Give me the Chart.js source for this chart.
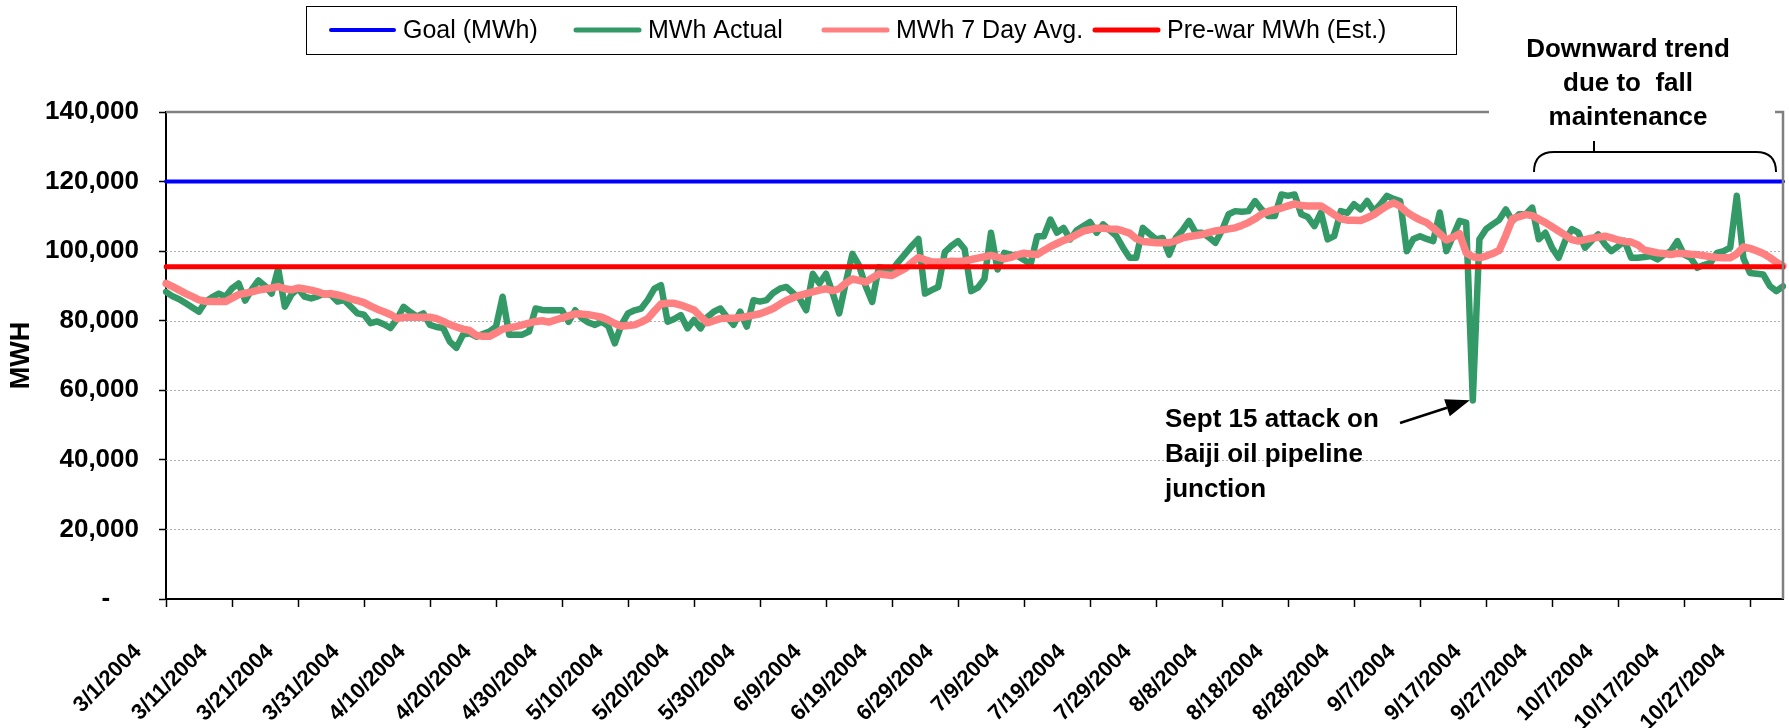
<!DOCTYPE html>
<html><head><meta charset="utf-8">
<script src="https://cdn.jsdelivr.net/npm/chart.js@4/dist/chart.umd.min.js"></script>
<style>html,body{margin:0;padding:0;background:#fff;}#wrap{width:1789px;height:728px;}</style>
</head><body><div id="wrap"><canvas id="c" width="1789" height="728"></canvas></div>
<script>
// ---------- DATA ----------
const firstDay = { year: 2004, month: 3, day: 1 };
const dayCount = 246;
const dates = [];
for (let i = 0; i < dayCount; i++) {
  const d = new Date(Date.UTC(firstDay.year, firstDay.month - 1, firstDay.day + i));
  dates.push((d.getUTCMonth() + 1) + '/' + d.getUTCDate() + '/' + d.getUTCFullYear());
}
const labelEvery = 10;

const goalMWh = 120000;
const preWarMWh = 95500;

const actualMWh = [
 88300, 87000, 86200, 85000, 83800, 82600, 85500, 86800, 87800, 86900,
 89300, 90700, 85800, 89000, 91600, 90000, 87800, 95000, 84000, 87500,
 89300, 86900, 86400, 87000, 87800, 87400, 85500, 85900, 84000, 82100,
 81700, 79300, 79800, 79000, 77900, 80500, 84000, 82500, 81200, 82100,
 78800, 78200, 77900, 74000, 72200, 76000, 76400, 75400, 76200, 76900,
 78300, 86900, 76000, 76000, 76000, 76900, 83500, 83100, 83000, 83000,
 83000, 79700, 83000, 80700, 79500, 78800, 79700, 78500, 73500, 78800,
 82100, 83000, 83500, 86000, 89200, 90200, 79700, 80500, 81600, 77800,
 80200, 77800, 81000, 82600, 83500, 81000, 78800, 82600, 78300, 85900,
 85500, 85900, 88000, 89200, 89700, 88000, 86400, 83000, 93500, 90700,
 93500, 88000, 82100, 91000, 99200, 95900, 90000, 85400, 95400, 95000,
 94500, 97000, 99200, 101500, 103500, 87800, 88800, 89700, 99700, 101500,
 102900, 100600, 88500, 89500, 92000, 105300, 94700, 99500, 99000, 98600,
 97500, 96200, 104300, 104300, 109100, 105300, 106700, 103400, 106000, 107200,
 108400, 105300, 107700, 106000, 104300, 101000, 98100, 98100, 106700, 105000,
 103400, 103800, 99000, 103800, 106000, 108700, 105300, 105300, 104000, 102400,
 106000, 110600, 111500, 111300, 111500, 114400, 112000, 110100, 110100, 116300,
 115900, 116300, 110600, 109800, 107200, 111100, 103400, 104300, 111500, 111000,
 113500, 112000, 114400, 111500, 113500, 115900, 115000, 114400, 100000, 103500,
 104300, 103500, 102900, 111100, 100000, 104300, 108700, 108200, 57100, 103400,
 106300, 107700, 109000, 112000, 108700, 110600, 110600, 112500, 103400, 105300,
 101000, 98100, 103000, 106300, 105300, 101000, 103000, 104800, 102000, 100000,
 101400, 102900, 98100, 98100, 98300, 98600, 97600, 99000, 100000, 102900,
 99000, 98100, 95200, 96000, 96600, 99500, 100000, 101000, 115900, 98000,
 93700, 93500, 93300, 90000, 88500, 89900
];

const avg7DayMWh = [
 90700, 89800, 88800, 87800, 86900, 86000, 85600, 85500, 85500, 85500,
 86500, 87500, 87900, 88300, 88800, 89100, 89400, 89800, 89200, 88900,
 89400, 89100, 88800, 88300, 87600, 87800, 87400, 86900, 86300, 85800,
 85200, 84200, 83300, 82600, 81800, 80600, 81000, 81000, 81000, 81000,
 81000, 80600, 79800, 78900, 78200, 77600, 77200, 75800, 75500, 75500,
 76500, 77600, 78000, 78300, 78800, 79300, 79800, 80000, 79600, 80200,
 80800, 81400, 82000, 81900, 81700, 81400, 81000, 80200, 79200, 78400,
 78600, 78800, 79600, 80600, 82800, 84800, 85000, 85000, 84500, 83800,
 83100, 81200, 79400, 80000, 80600, 80700, 80700, 80900, 81200, 81600,
 82000, 82700, 83500, 84700, 85800, 86600, 87300, 87800, 88300, 88800,
 89200, 88600, 89200, 90800, 92000, 91600, 91100, 92300, 93400, 93200,
 93000, 94000, 95000, 96700, 98200, 97500, 96900, 96900, 96900, 97100,
 97000, 97200, 97600, 98000, 98400, 98800, 98300, 97800, 98200, 98900,
 99400, 99200, 99000, 100200, 101300, 102200, 103100, 103800, 104800, 105800,
 106200, 106600, 106600, 106400, 106300, 105800, 105200, 103600, 102800, 102600,
 102400, 102400, 102400, 103000, 103800, 104200, 104500, 104800, 105300, 105800,
 106100, 106400, 106700, 107400, 108200, 109300, 110600, 111400, 111900, 112400,
 113000, 113600, 113100, 113000, 113000, 113000, 111800, 110500, 109300, 108900,
 108900, 108800, 109600, 110500, 111800, 113000, 113900, 112900, 111200, 110000,
 109000, 108200, 106700, 105000, 103200, 104000, 105000, 99500, 98400, 98100,
 98600, 99300, 100200, 104500, 109300, 109900, 110500, 110200, 109200, 108200,
 107000, 105800, 104600, 103300, 102900, 103300, 103700, 104000, 104300, 103800,
 103200, 102800, 102600, 101800, 100300, 99900, 99500, 99300, 99000, 99400,
 99300, 99100, 99000, 98700, 98400, 98200, 98100, 98100, 99200, 101200,
 100800, 100100, 99300, 98200, 96800, 95700
];

const yMin = 0, yMax = 140000, yStep = 20000;
const seriesNames = ['Goal (MWh)', 'MWh Actual', 'MWh 7 Day Avg.', 'Pre-war MWh (Est.)'];
const attackIndex = 198;
const attackNote = ['Sept 15 attack on', 'Baiji oil pipeline', 'junction'];
const trendNote = ['Downward trend', 'due to  fall', 'maintenance'];

// ---------- PLUGINS ----------
const FONT = '"Liberation Sans", Arial, sans-serif';

const gridPlugin = {
  id: 'gridPlugin',
  beforeDatasetsDraw(chart) {
    const { ctx, chartArea: a, scales: { y } } = chart;
    ctx.save();
    ctx.strokeStyle = '#b0b0b0';
    ctx.lineWidth = 1;
    ctx.setLineDash([2, 2]);
    for (let v = yStep; v < yMax; v += yStep) {
      const py = Math.round(y.getPixelForValue(v)) + 0.5;
      ctx.beginPath(); ctx.moveTo(a.left, py); ctx.lineTo(a.right, py); ctx.stroke();
    }
    ctx.restore();
  }
};

const decorPlugin = {
  id: 'decorPlugin',
  afterDraw(chart) {
    const { ctx, chartArea: a, scales: { x, y } } = chart;
    ctx.save();
    // plot frame (top & right)
    ctx.strokeStyle = '#808080';
    ctx.lineWidth = 2.5;
    ctx.beginPath(); ctx.moveTo(a.left, a.top); ctx.lineTo(a.right, a.top); ctx.lineTo(a.right, a.bottom); ctx.stroke();

    // trend note box
    ctx.fillStyle = '#fff';
    ctx.fillRect(1489, 28, a.right - 8 - 1489, 96);
    ctx.fillStyle = '#000';
    ctx.font = 'bold 26px ' + FONT;
    ctx.textAlign = 'center';
    ctx.textBaseline = 'middle';
    trendNote.forEach((t, i) => ctx.fillText(t, 1628, 50 + i * 34));

    // brace
    ctx.strokeStyle = '#000';
    ctx.lineWidth = 2;
    const bl = 1534, br = 1776, bt = 152, bb = 172, r = 20, nub = 1594;
    ctx.beginPath();
    ctx.moveTo(bl, bb);
    ctx.quadraticCurveTo(bl, bt, bl + r, bt);
    ctx.lineTo(br - r, bt);
    ctx.quadraticCurveTo(br, bt, br, bb);
    ctx.moveTo(nub, bt);
    ctx.lineTo(nub, bt - 11);
    ctx.stroke();

    // attack note + arrow
    ctx.textAlign = 'left';
    ctx.textBaseline = 'alphabetic';
    attackNote.forEach((t, i) => ctx.fillText(t, 1165, 427 + i * 35));
    const tx = x.getPixelForValue(attackIndex) - 3;
    const ty = y.getPixelForValue(actualMWh[attackIndex]);
    const sx = 1400, sy = 423;
    const ang = Math.atan2(ty - sy, tx - sx);
    const hl = 24, hw = 9;
    const bx = tx - hl * Math.cos(ang), by = ty - hl * Math.sin(ang);
    ctx.lineWidth = 2.5;
    ctx.beginPath(); ctx.moveTo(sx, sy); ctx.lineTo(bx, by); ctx.stroke();
    ctx.beginPath();
    ctx.moveTo(tx, ty);
    ctx.lineTo(bx + hw * Math.sin(ang), by - hw * Math.cos(ang));
    ctx.lineTo(bx - hw * Math.sin(ang), by + hw * Math.cos(ang));
    ctx.closePath(); ctx.fill();

    // legend (boxed, one row)
    ctx.font = '25px ' + FONT;
    ctx.textBaseline = 'middle';
    const box = { l: 306, r: 1456, t: 6, h: 48 }, cy = 30, lineLen = 63, gapLT = 9;
    const itemStarts = [331, 576, 824, 1095];
    ctx.lineWidth = 1;
    ctx.strokeStyle = '#000';
    ctx.strokeRect(box.l + 0.5, box.t + 0.5, box.r - box.l, box.h);
    chart.data.datasets.forEach((d, i) => {
      const lx = itemStarts[i];
      ctx.strokeStyle = d.borderColor;
      ctx.lineWidth = Math.min(d.borderWidth, 5);
      ctx.lineCap = 'round';
      ctx.beginPath(); ctx.moveTo(lx, cy); ctx.lineTo(lx + lineLen, cy); ctx.stroke();
      ctx.fillStyle = '#000';
      ctx.fillText(d.label, lx + lineLen + gapLT, cy + 1);
    });
    ctx.restore();
  }
};

// ---------- CHART ----------
const flat = v => dates.map(() => v);
new Chart(document.getElementById('c'), {
  type: 'line',
  data: {
    labels: dates,
    datasets: [
      { label: seriesNames[0], data: flat(goalMWh), borderColor: '#0000FF', borderWidth: 4, order: 4 },
      { label: seriesNames[1], data: actualMWh, borderColor: '#339966', borderWidth: 6.5, order: 3 },
      { label: seriesNames[2], data: avg7DayMWh, borderColor: '#FF8080', borderWidth: 7.5, order: 2 },
      { label: seriesNames[3], data: flat(preWarMWh), borderColor: '#FF0000', borderWidth: 5, order: 1 }
    ]
  },
  options: {
    responsive: false,
    animation: false,
    devicePixelRatio: 1,
    layout: { padding: { top: 112, right: 6, left: 0, bottom: 0 } },
    elements: {
      point: { radius: 0, hoverRadius: 0 },
      line: { tension: 0, borderJoinStyle: 'round', borderCapStyle: 'round', fill: false }
    },
    plugins: { legend: { display: false }, tooltip: { enabled: false } },
    scales: {
      x: {
        type: 'category',
        offset: false,
        afterFit(s) { s.height = 129; s.paddingRight = 0; s.paddingLeft = 0; },
        grid: { drawOnChartArea: false, drawTicks: true, tickLength: 8, tickWidth: 1.5, tickColor: '#000' },
        border: { display: true, color: '#000', width: 2 },
        ticks: {
          autoSkip: false, minRotation: 45, maxRotation: 45,
          padding: 32, labelOffset: -28,
          color: '#000', font: { family: FONT, size: 22, weight: 'bold' },
          callback: (v, i) => (i % labelEvery === 0 ? dates[i] : null)
        }
      },
      y: {
        min: yMin, max: yMax,
        afterFit(s) { s.width = 166; },
        grid: { drawOnChartArea: false, drawTicks: true, tickLength: 7, tickColor: '#000', tickWidth: 1.5 },
        border: { display: true, color: '#000', width: 2 },
        ticks: {
          stepSize: yStep, padding: 20, color: '#000',
          font: { family: FONT, size: 26, weight: 'bold' },
          callback: v => (v === 0 ? '-    ' : v.toLocaleString('en-US'))
        },
        title: { display: true, text: 'MWH', color: '#000', font: { family: FONT, size: 27, weight: 'bold' }, padding: { top: 5, bottom: 0 } }
      }
    }
  },
  plugins: [gridPlugin, decorPlugin]
});
</script></body></html>
